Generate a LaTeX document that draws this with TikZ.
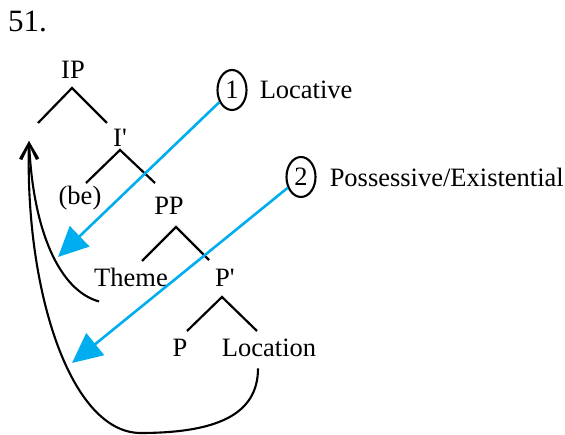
\documentclass[tikz,border=0pt]{standalone}
\usepackage{fontspec}
\setmainfont{Liberation Serif}
\usetikzlibrary{%
  arrows.meta,%
  shapes.geometric,% ellipse
  positioning% right=of
}
\definecolor{cueblue}{RGB}{0,174,239}

\begin{document}
\begin{tikzpicture}[x=1pt,y=-1pt]
  \useasboundingbox (0,0) rectangle (565,435);
  \begin{scope}[
    every node/.style={inner sep=1pt, font=\fontsize{26.5}{30}\selectfont},
    Word/.style={anchor=base},
    Ring/.style={ellipse, draw, line width=2.1pt,
      minimum width=29pt, minimum height=40pt, inner sep=0pt},
    Branch/.style={line width=2.2pt},
    Raise/.style={line width=2.1pt, -{Straight Barb[length=16pt,width=17pt]}},
    Cue/.style={cueblue, line width=2.6pt, -{Triangle[length=30pt,width=28pt]}}]
    \node [anchor=base west, font=\fontsize{31}{36}\selectfont] (Num) at (7,32) {51.};
    % tree
    \node [Word] (IP) at (73,79) {IP};
    \node [Word] (Ibar) at (120,147) {I\textquotesingle};
    \node [Word] (Be) at (80,205) {(be)};
    \node [Word] (PP) at (169,215) {PP};
    \node [Word] (Theme) at (131,287) {Theme};
    \node [Word] (Pbar) at (225,287) {P\textquotesingle};
    \node [Word] (P) at (180,357) {P};
    \node [Word] (Location) at (269,357) {Location};
    \coordinate (Spec) at (29,141);
    \draw [Branch] (IP.base) ++(-35,44) -- ++(34,-35) -- ++(35,35);
    \draw [Branch] (Ibar.base) ++(-34,36) -- ++(34,-33) -- ++(35,33);
    \draw [Branch] (PP.base) ++(-27,46) -- ++(34,-34) -- ++(33,33);
    \draw [Branch] (Pbar.base) ++(-38,44) -- ++(35,-34) -- ++(35,34);
    % readings
    \node [Ring] (One) at (232,90) {1};
    \node [right=11pt of One] (Locative) {Locative};
    \node [Ring] (Two) at (301,177) {2};
    \node [right=12pt of Two] (Possessive) {Possessive/Existential};
    \coordinate (LocGoal) at (58,257);
    \coordinate (PossGoal) at (72,363);
    \draw [Cue] (One) -- (LocGoal);
    \draw [Cue] (Two) -- (PossGoal);
    % movement
    \draw [Raise] ([xshift=6pt,yshift=-13pt]Theme.south west)
      .. controls +(-40,-11) and +(4,89) .. (Spec);
    \draw [Raise] ([xshift=-11pt,yshift=-10pt]Location.south)
      .. controls +(0,47) and +(75,0) .. (140,433)
      .. controls +(-70,-1) and +(-4,149) .. (Spec);
  \end{scope}
\end{tikzpicture}
\end{document}
